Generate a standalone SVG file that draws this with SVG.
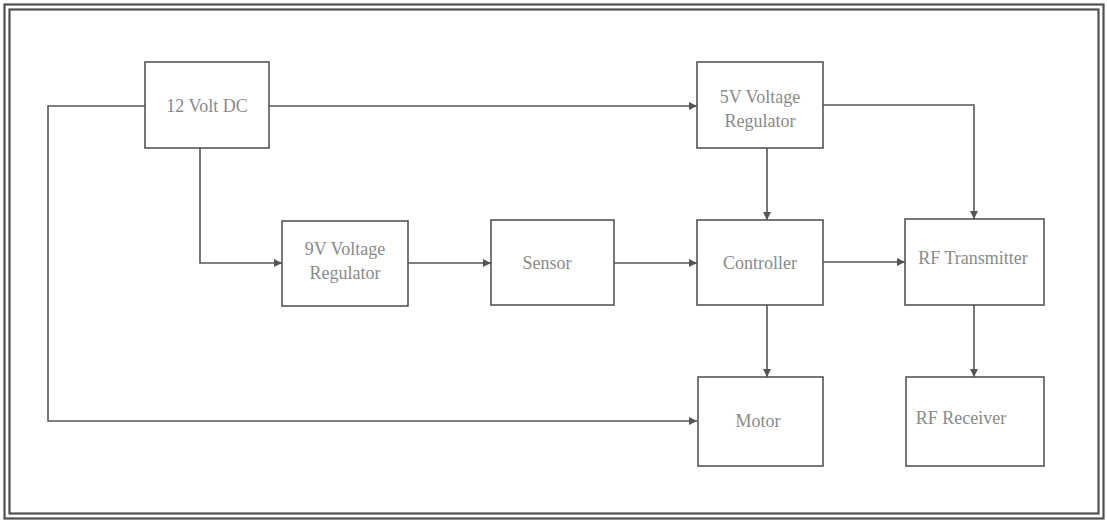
<svg xmlns="http://www.w3.org/2000/svg" width="1107" height="522" viewBox="0 0 1107 522">
<style>
.box{fill:#fff;stroke:#555;stroke-width:1.6}
.lbl{font-family:'Liberation Serif','Times New Roman',Times,'DejaVu Serif',serif;font-size:18px;fill:#8a8a8a;text-anchor:middle}
.wire{fill:none;stroke:#555;stroke-width:1.6}
.frame{fill:none;stroke:#505050;stroke-width:2.2}
</style>
<defs>
<marker id="ah" viewBox="0 0 10 10" refX="10" refY="5" markerWidth="9" markerHeight="8" markerUnits="userSpaceOnUse" orient="auto">
<path d="M0,0 L10,5 L0,10 z" fill="#555"/>
</marker>
</defs>
<rect width="1107" height="522" fill="#fff"/>
<rect class="frame" x="4.5" y="4.5" width="1099" height="514"/>
<rect class="frame" x="9.5" y="9.5" width="1089" height="504"/>
<g id="connectors">
<path class="wire" d="M269,106 H697" marker-end="url(#ah)"/>
<path class="wire" d="M145,106 H48 V421 H697" marker-end="url(#ah)"/>
<path class="wire" d="M200,148 V263 H282" marker-end="url(#ah)"/>
<path class="wire" d="M408,263 H491" marker-end="url(#ah)"/>
<path class="wire" d="M614,263 H697" marker-end="url(#ah)"/>
<path class="wire" d="M767,148 V220" marker-end="url(#ah)"/>
<path class="wire" d="M823,105 H974 V219" marker-end="url(#ah)"/>
<path class="wire" d="M823,262 H905" marker-end="url(#ah)"/>
<path class="wire" d="M767,305 V377" marker-end="url(#ah)"/>
<path class="wire" d="M974,305 V377" marker-end="url(#ah)"/>
</g>
<g id="dc12">
<rect class="box" x="145" y="62" width="124" height="86"/>
<text class="lbl" x="207" y="112">12 Volt DC</text>
</g>
<g id="reg5">
<rect class="box" x="697" y="62" width="126" height="86"/>
<text class="lbl" x="760" y="103">5V Voltage</text>
<text class="lbl" x="760" y="127">Regulator</text>
</g>
<g id="reg9">
<rect class="box" x="282" y="221" width="126" height="85"/>
<text class="lbl" x="345" y="255">9V Voltage</text>
<text class="lbl" x="345" y="279">Regulator</text>
</g>
<g id="sensor">
<rect class="box" x="491" y="220" width="123" height="85"/>
<text class="lbl" x="547" y="269">Sensor</text>
</g>
<g id="controller">
<rect class="box" x="697" y="220" width="126" height="85"/>
<text class="lbl" x="760" y="269">Controller</text>
</g>
<g id="rftx">
<rect class="box" x="905" y="219" width="139" height="86"/>
<text class="lbl" x="973" y="264">RF Transmitter</text>
</g>
<g id="motor">
<rect class="box" x="698" y="377" width="125" height="89"/>
<text class="lbl" x="758" y="427">Motor</text>
</g>
<g id="rfrx">
<rect class="box" x="906" y="377" width="138" height="89"/>
<text class="lbl" x="961" y="424">RF Receiver</text>
</g>
</svg>
